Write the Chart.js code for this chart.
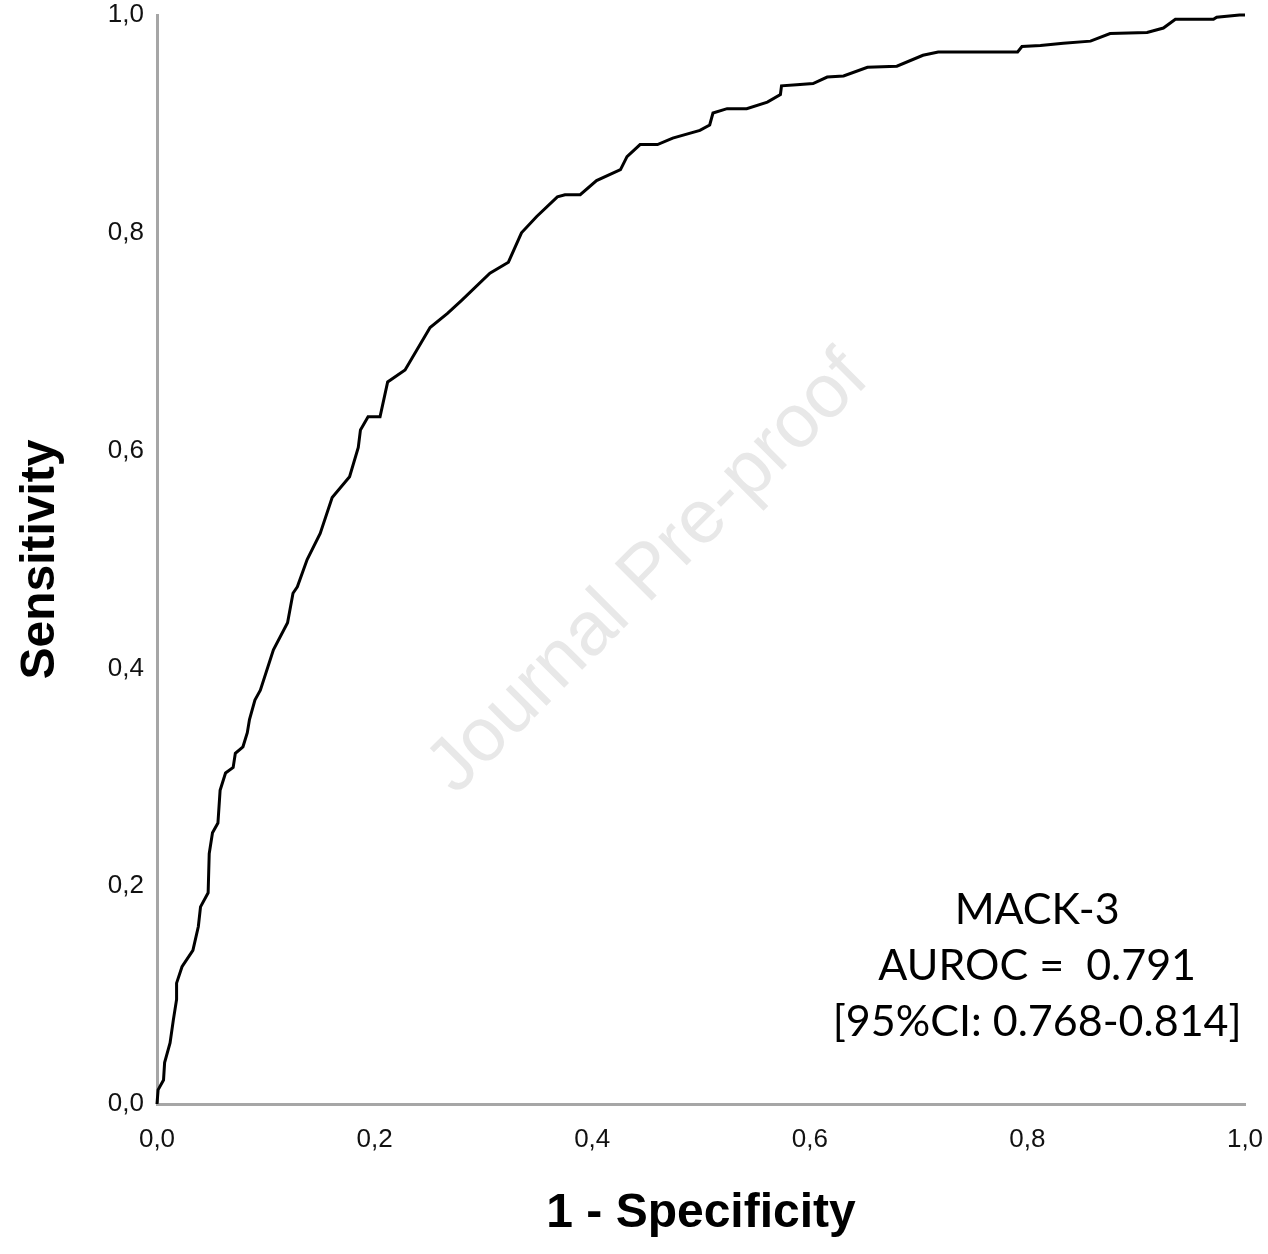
<!DOCTYPE html>
<html>
<head>
<meta charset="utf-8">
<script src="https://cdn.jsdelivr.net/npm/chart.js@4/dist/chart.umd.min.js"></script>
<style>
  html, body { margin: 0; padding: 0; background: #ffffff; }
  #wrap { width: 1268px; height: 1254px; }
</style>
</head>
<body>
<div id="wrap"><canvas id="c" width="1268" height="1254"></canvas></div>
<script>
// ROC curve points (1 - specificity, sensitivity)
const fpr = [0.000, 0.001, 0.006, 0.007, 0.012, 0.015, 0.018, 0.018, 0.023, 0.033, 0.038, 0.040, 0.047, 0.048, 0.051, 0.056, 0.058, 0.063, 0.070, 0.072, 0.079, 0.083, 0.085, 0.090, 0.095, 0.107, 0.120, 0.125, 0.129, 0.138, 0.150, 0.161, 0.177, 0.185, 0.187, 0.194, 0.205, 0.212, 0.228, 0.251, 0.267, 0.280, 0.306, 0.323, 0.335, 0.349, 0.368, 0.375, 0.389, 0.404, 0.426, 0.432, 0.444, 0.460, 0.474, 0.499, 0.508, 0.511, 0.524, 0.542, 0.561, 0.573, 0.574, 0.588, 0.603, 0.616, 0.631, 0.653, 0.680, 0.704, 0.718, 0.791, 0.795, 0.812, 0.833, 0.858, 0.876, 0.910, 0.925, 0.936, 0.971, 0.974, 0.995, 1.000];
const tpr = [0.000, 0.013, 0.022, 0.038, 0.056, 0.077, 0.096, 0.111, 0.126, 0.141, 0.163, 0.181, 0.194, 0.230, 0.249, 0.258, 0.288, 0.304, 0.309, 0.322, 0.328, 0.341, 0.353, 0.371, 0.380, 0.417, 0.442, 0.469, 0.475, 0.500, 0.524, 0.557, 0.576, 0.603, 0.619, 0.631, 0.631, 0.663, 0.674, 0.713, 0.726, 0.738, 0.763, 0.773, 0.800, 0.815, 0.833, 0.835, 0.835, 0.848, 0.858, 0.870, 0.881, 0.881, 0.887, 0.894, 0.899, 0.910, 0.914, 0.914, 0.920, 0.927, 0.935, 0.936, 0.937, 0.943, 0.944, 0.952, 0.953, 0.963, 0.966, 0.966, 0.971, 0.972, 0.974, 0.976, 0.983, 0.984, 0.988, 0.996, 0.996, 0.998, 1.000, 1.000];

const xTickLabels = ['0,0', '0,2', '0,4', '0,6', '0,8', '1,0'];
const yTickLabels = ['0,0', '0,2', '0,4', '0,6', '0,8', '1,0'];
const xTitle = '1 - Specificity';
const yTitle = 'Sensitivity';
const annotationLines = ['MACK-3', 'AUROC =  0.791', '[95%CI: 0.768-0.814]'];
const watermarkText = 'Journal Pre-proof';

const points = fpr.map((x, i) => ({ x: x, y: tpr[i] }));

const overlayPlugin = {
  id: 'overlay',
  beforeDatasetsDraw(chart) {
    const ctx = chart.ctx;
    const xs = chart.scales.x, ys = chart.scales.y;
    ctx.save();
    ctx.translate(xs.getPixelForValue(0.452), ys.getPixelForValue(0.487));
    ctx.rotate(-Math.PI / 4);
    ctx.font = '76px "Liberation Sans", Arial, sans-serif';
    ctx.fillStyle = '#e8e8e8';
    ctx.textAlign = 'center';
    ctx.textBaseline = 'middle';
    ctx.fillText(watermarkText, 0, 0);
    ctx.restore();
  },
  afterDatasetsDraw(chart) {
    const ctx = chart.ctx;
    const xs = chart.scales.x, ys = chart.scales.y;
    const cx = xs.getPixelForValue(0.809);
    const y0 = ys.getPixelForValue(0.178);
    ctx.save();
    ctx.font = '43px Lato, "Open Sans", sans-serif';
    ctx.fillStyle = '#000000';
    ctx.textAlign = 'center';
    ctx.textBaseline = 'middle';
    annotationLines.forEach((t, i) => ctx.fillText(t, cx, y0 + i * 56));
    ctx.restore();
  }
};

const tickFont = { family: 'Liberation Sans, Arial, sans-serif', size: 26 };
const titleFont = { family: 'Liberation Sans, Arial, sans-serif', size: 48, weight: 'bold', lineHeight: 1 };

new Chart(document.getElementById('c'), {
  type: 'line',
  data: {
    datasets: [{
      data: points,
      borderColor: '#000000',
      borderWidth: 3,
      pointRadius: 0,
      tension: 0,
      fill: false,
      clip: 6
    }]
  },
  options: {
    responsive: false,
    animation: false,
    devicePixelRatio: 1,
    layout: { padding: { left: 0, right: 23, top: 15, bottom: 0 } },
    plugins: { legend: { display: false }, tooltip: { enabled: false } },
    scales: {
      x: {
        type: 'linear', min: 0, max: 1,
        grid: { display: false, drawTicks: false },
        border: { display: true, color: '#a6a6a6', width: 3 },
        ticks: {
          stepSize: 0.2, padding: 20, color: '#111111',
          font: tickFont,
          maxRotation: 0,
          callback: (v, i) => xTickLabels[i]
        },
        title: {
          display: true, text: xTitle, color: '#000000',
          font: titleFont,
          padding: { top: 0, bottom: 16 }
        },
        afterFit: (s) => { s.height = 150; s.paddingLeft = 0; s.paddingRight = 0; }
      },
      y: {
        type: 'linear', min: 0, max: 1,
        grid: { display: false, drawTicks: false },
        border: { display: true, color: '#a6a6a6', width: 3 },
        ticks: {
          stepSize: 0.2, padding: 13, color: '#111111',
          font: tickFont,
          callback: (v, i) => yTickLabels[i]
        },
        title: {
          display: true, text: yTitle, color: '#000000',
          font: titleFont,
          padding: { top: 17, bottom: 0 }
        },
        afterFit: (s) => { s.width = 157; s.paddingTop = 0; s.paddingBottom = 0; }
      }
    }
  },
  plugins: [overlayPlugin]
});
</script>
</body>
</html>
